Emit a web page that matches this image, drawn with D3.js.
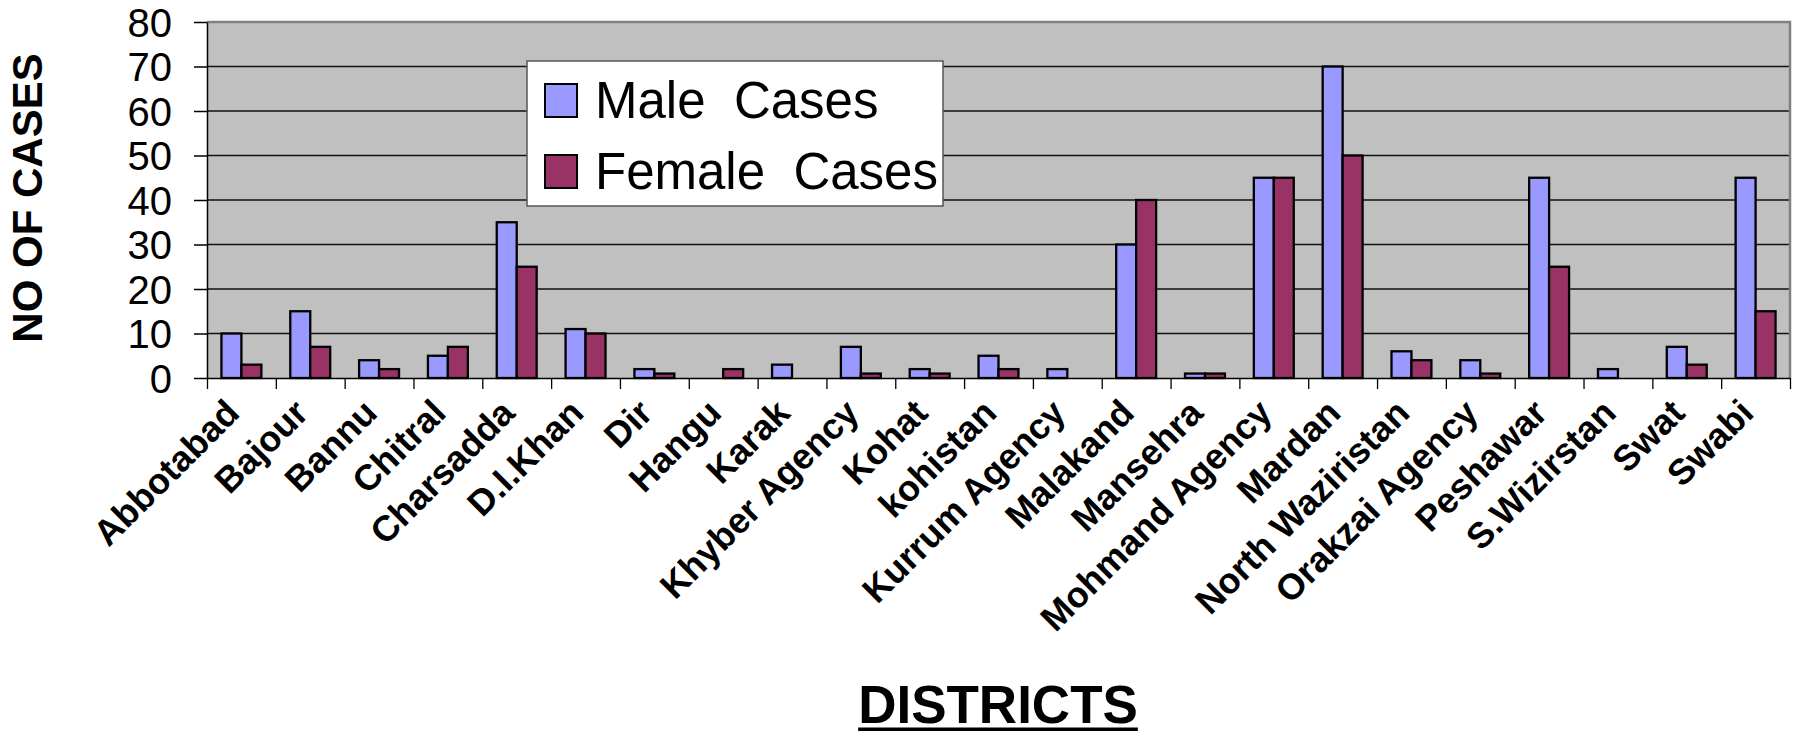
<!DOCTYPE html>
<html>
<head>
<meta charset="utf-8">
<script src="https://cdn.jsdelivr.net/npm/d3@7/dist/d3.min.js"></script>
<style>
  html, body { margin: 0; padding: 0; background: #fff; }
  svg { display: block; font-family: "Liberation Sans", Arial, sans-serif; }
</style>
</head>
<body>
<svg id="chart" width="1798" height="733"></svg>
<script>
const categories = ["Abbotabad","Bajour","Bannu","Chitral","Charsadda","D.I.Khan","Dir","Hangu","Karak","Khyber Agency","Kohat","kohistan","Kurrum Agency","Malakand","Mansehra","Mohmand Agency","Mardan","North Waziristan","Orakzai Agency","Peshawar","S.Wizirstan","Swat","Swabi"];
const maleCases   = [10, 15, 4, 5, 35, 11, 2, 0, 3, 7, 2, 5, 2, 30, 1, 45, 70, 6, 4, 45, 2, 7, 45];
const femaleCases = [ 3,  7, 2, 7, 25, 10, 1, 2, 0, 1, 1, 2, 0, 40, 1, 45, 50, 4, 1, 25, 0, 3, 15];
const seriesNames = ["Male  Cases", "Female  Cases"];
const seriesColors = ["#9999FF", "#993366"];
const yTicks = [0, 10, 20, 30, 40, 50, 60, 70, 80];
const yTitle = "NO OF CASES";
const xTitle = "DISTRICTS";

const svg = d3.select("#chart");
const L = 207, R = 1790, T = 22, B = 378;

const x = d3.scaleBand().domain(categories).range([L, R]).paddingInner(0.42).paddingOuter(0.21);
const xs = d3.scaleBand().domain([0, 1]).range([0, x.bandwidth()]);
const xb = d3.scaleLinear().domain([0, categories.length]).range([L, R]);
const y = d3.scaleLinear().domain([0, 80]).range([B, T]);

// plot background
svg.append("rect").attr("x", L).attr("y", T).attr("width", R - L).attr("height", B - T).attr("fill", "#C0C0C0");

// gridlines
svg.append("g").selectAll("line").data(yTicks.filter(d => d > 0 && d < 80)).join("line")
  .attr("x1", L).attr("x2", R).attr("y1", d => y(d)).attr("y2", d => y(d))
  .attr("stroke", "#111").attr("stroke-width", 1.3);

// top & right border
svg.append("path").attr("d", `M${L},${T}H${R}V${B}`).attr("fill", "none").attr("stroke", "#808080").attr("stroke-width", 2.5);

// bars
const groups = svg.append("g").selectAll("g").data(categories).join("g")
  .attr("transform", d => `translate(${x(d)},0)`);
groups.selectAll("rect").data((d, i) => [maleCases[i], femaleCases[i]].map((v, k) => ({v, k})))
  .join("rect")
  .filter(d => d.v > 0)
  .attr("x", d => xs(d.k)).attr("width", xs.bandwidth())
  .attr("y", d => y(d.v)).attr("height", d => y(0) - y(d.v))
  .attr("fill", d => seriesColors[d.k]).attr("stroke", "#000").attr("stroke-width", 2.3);

// y axis
const yAxis = svg.append("g").attr("transform", `translate(${L},0)`)
  .call(d3.axisLeft(y).tickValues(yTicks).tickSize(13).tickPadding(22).tickSizeOuter(0));
yAxis.select(".domain").attr("stroke", "#000").attr("stroke-width", 1.5);
yAxis.selectAll(".tick line").attr("stroke", "#000").attr("stroke-width", 1.5);
yAxis.selectAll("text").attr("font-size", 40).attr("fill", "#000").attr("dy", "0.36em");

// x axis boundary ticks
const xAxis = svg.append("g").attr("transform", `translate(0,${B})`)
  .call(d3.axisBottom(xb).tickValues(d3.range(categories.length + 1)).tickSize(11).tickFormat("").tickSizeOuter(0));
xAxis.select(".domain").attr("stroke", "#000").attr("stroke-width", 1.5);
xAxis.selectAll(".tick line").attr("stroke", "#000").attr("stroke-width", 1.3);

// x labels
const xLab = svg.append("g").attr("transform", `translate(0,${B})`)
  .call(d3.axisBottom(x).tickSize(0).tickPadding(0));
xLab.select(".domain").remove();
xLab.selectAll("text")
  .attr("font-size", 36).attr("font-weight", "bold").attr("fill", "#000")
  .attr("text-anchor", "end")
  .attr("y", 0).attr("dy", 0)
  .attr("transform", "translate(0,37) rotate(-45)");

// y title
svg.append("text").attr("transform", "translate(42,198) rotate(-90)")
  .attr("text-anchor", "middle").attr("font-size", 42).attr("font-weight", "bold").text(yTitle);

// x title
const xt = svg.append("text").attr("x", 998).attr("y", 723)
  .attr("text-anchor", "middle").attr("font-size", 53).attr("font-weight", "bold").text(xTitle);
const w = xt.node().getComputedTextLength();
svg.append("rect").attr("x", 998 - w / 2).attr("y", 727.5).attr("width", w).attr("height", 3.5).attr("fill", "#000");

// legend
const lg = svg.append("g").attr("transform", "translate(527,61)");
lg.append("rect").attr("width", 416).attr("height", 145).attr("fill", "#fff").attr("stroke", "#555").attr("stroke-width", 1.5);
const rowY = [39, 110];
seriesNames.forEach((name, i) => {
  lg.append("rect").attr("x", 18).attr("y", rowY[i] - 16).attr("width", 32).attr("height", 33)
    .attr("fill", seriesColors[i]).attr("stroke", "#000").attr("stroke-width", 2);
  lg.append("text").attr("x", 68).attr("y", rowY[i] + 18).attr("font-size", 51)
    .style("white-space", "pre").text(name);
});
</script>
</body>
</html>
